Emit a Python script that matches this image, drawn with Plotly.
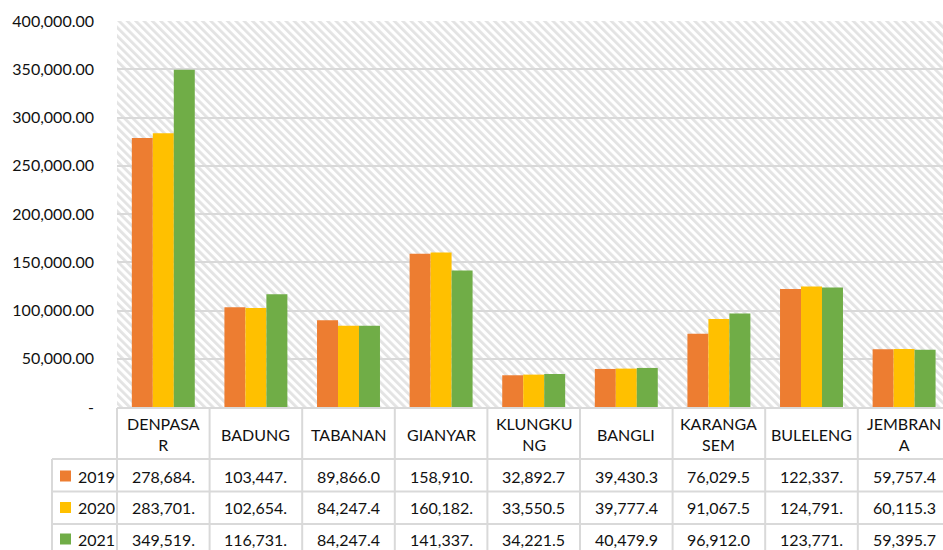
import base64
import plotly.graph_objects as go

categories = ["DENPASAR", "BADUNG", "TABANAN", "GIANYAR", "KLUNGKUNG",
              "BANGLI", "KARANGASEM", "BULELENG", "JEMBRANA"]
header_labels = ["DENPASA<br>R", "BADUNG", "TABANAN", "GIANYAR", "KLUNGKU<br>NG",
                 "BANGLI", "KARANGA<br>SEM", "BULELENG", "JEMBRAN<br>A"]
years = ["2019", "2020", "2021"]
v2019 = [278684.0, 103447.0, 89866.0, 158910.0, 32892.7, 39430.3, 76029.5, 122337.0, 59757.4]
v2020 = [283701.0, 102654.0, 84247.4, 160182.0, 33550.5, 39777.4, 91067.5, 124791.0, 60115.3]
v2021 = [349519.0, 116731.0, 84247.4, 141337.0, 34221.5, 40479.9, 96912.0, 123771.0, 59395.7]
series = [v2019, v2020, v2021]
colors = ["#ED7D31", "#FFC000", "#70AD47"]
y_tickvals = [0, 50000, 100000, 150000, 200000, 250000, 300000, 350000, 400000]
y_ticktext = ["-", "50,000.00", "100,000.00", "150,000.00", "200,000.00",
              "250,000.00", "300,000.00", "350,000.00", "400,000.00"]

FONT = "Lato"
TXT = "#111111"
W, H = 943, 550
# plot area in pixels
SL, ST, SR, SB = 117, 21, 943, 407
PW, PH = SR - SL, SB - ST
COLW = 92.6  # width of one category column in pixels
ncat = len(categories)
x_hi = -0.5 + PW / COLW  # last column runs past the window edge


def px_x(px):
    return (px - SL) / PW


def px_y(py):
    return (SB - py) / PH


def cell_text(v):
    return f"{v:,.2f}"[:8]


fig = go.Figure()
for name, vals, col in zip(years, series, colors):
    fig.add_trace(go.Bar(x=list(range(ncat)), y=vals, name=name, marker_color=col,
                         marker_line_width=0, showlegend=False,
                         hovertext=categories))

# hatched plot background
svg = (f'<svg xmlns="http://www.w3.org/2000/svg" width="{PW}" height="{PH}">'
       '<defs><pattern id="p" width="5.9" height="6" patternUnits="userSpaceOnUse" '
       'patternTransform="rotate(-45)"><rect x="0" y="0" width="2.8" height="6" fill="#e3e3e3"/>'
       '</pattern></defs><rect width="100%" height="100%" fill="white"/>'
       '<rect width="100%" height="100%" fill="url(#p)"/></svg>')
src = "data:image/svg+xml;base64," + base64.b64encode(svg.encode()).decode()

shapes = []
annotations = []
LC = "#d9d9d9"
# table grid
shapes.append(dict(type="line", xref="paper", yref="paper", x0=0, x1=1,
                   y0=px_y(408), y1=px_y(408), line=dict(color=LC, width=2)))
for py in [459, 491.5, 524]:
    shapes.append(dict(type="line", xref="paper", yref="paper", x0=px_x(52), x1=1,
                       y0=px_y(py), y1=px_y(py), line=dict(color=LC, width=2)))
for i in range(ncat):
    xx = px_x(SL + i * COLW)
    shapes.append(dict(type="line", xref="paper", yref="paper", x0=xx, x1=xx,
                       y0=px_y(408), y1=px_y(560), line=dict(color=LC, width=2)))
shapes.append(dict(type="line", xref="paper", yref="paper", x0=px_x(52), x1=px_x(52),
                   y0=px_y(459), y1=px_y(560), line=dict(color=LC, width=2)))

# header
for i, lab in enumerate(header_labels):
    annotations.append(dict(x=i, y=px_y(434), xref="x", yref="paper", text=lab,
                            showarrow=False, font=dict(family=FONT, size=16, color=TXT),
                            xanchor="center", yanchor="middle"))
# rows
row_centers = [476, 507.5, 539]
for yr, vals, col, pyc in zip(years, series, colors, row_centers):
    shapes.append(dict(type="rect", xref="paper", yref="paper", x0=px_x(60), x1=px_x(71),
                       y0=px_y(pyc - 5.5), y1=px_y(pyc + 5.5), fillcolor=col, line_width=0))
    annotations.append(dict(x=px_x(76), y=px_y(pyc), xref="paper", yref="paper", text=yr,
                            showarrow=False, font=dict(family=FONT, size=16, color=TXT),
                            xanchor="left", yanchor="middle"))
    for i, v in enumerate(vals):
        annotations.append(dict(x=i, y=px_y(pyc), xref="x", yref="paper", text=cell_text(v),
                                showarrow=False, font=dict(family=FONT, size=16, color=TXT),
                                xanchor="center", yanchor="middle"))

fig.update_layout(
    width=W, height=H,
    margin=dict(l=SL, r=W - SR, t=ST, b=H - SB, pad=0, autoexpand=False),
    paper_bgcolor="white", plot_bgcolor="rgba(0,0,0,0)",
    barmode="group", bargap=0.32, bargroupgap=0,
    font=dict(family=FONT, size=16, color=TXT),
    images=[dict(source=src, xref="paper", yref="paper", x=0, y=1, sizex=1, sizey=1,
                 xanchor="left", yanchor="top", sizing="stretch", layer="below")],
    shapes=shapes, annotations=annotations,
    xaxis=dict(showticklabels=False, showgrid=False, zeroline=False, showline=False,
               range=[-0.5, x_hi], automargin=False),
    yaxis=dict(range=[0, 400000], tickvals=y_tickvals, ticktext=y_ticktext,
               showgrid=True, gridcolor="#d9d9d9", gridwidth=2, zeroline=False,
               showline=False, ticks="", ticklabelstandoff=22, automargin=False,
               tickfont=dict(family=FONT, size=16, color=TXT)),
)

fig.write_html("out.html",
               config={"displayModeBar": False},
               post_script="document.body.style.margin='0px';"
                           "document.body.style.overflow='hidden';")
